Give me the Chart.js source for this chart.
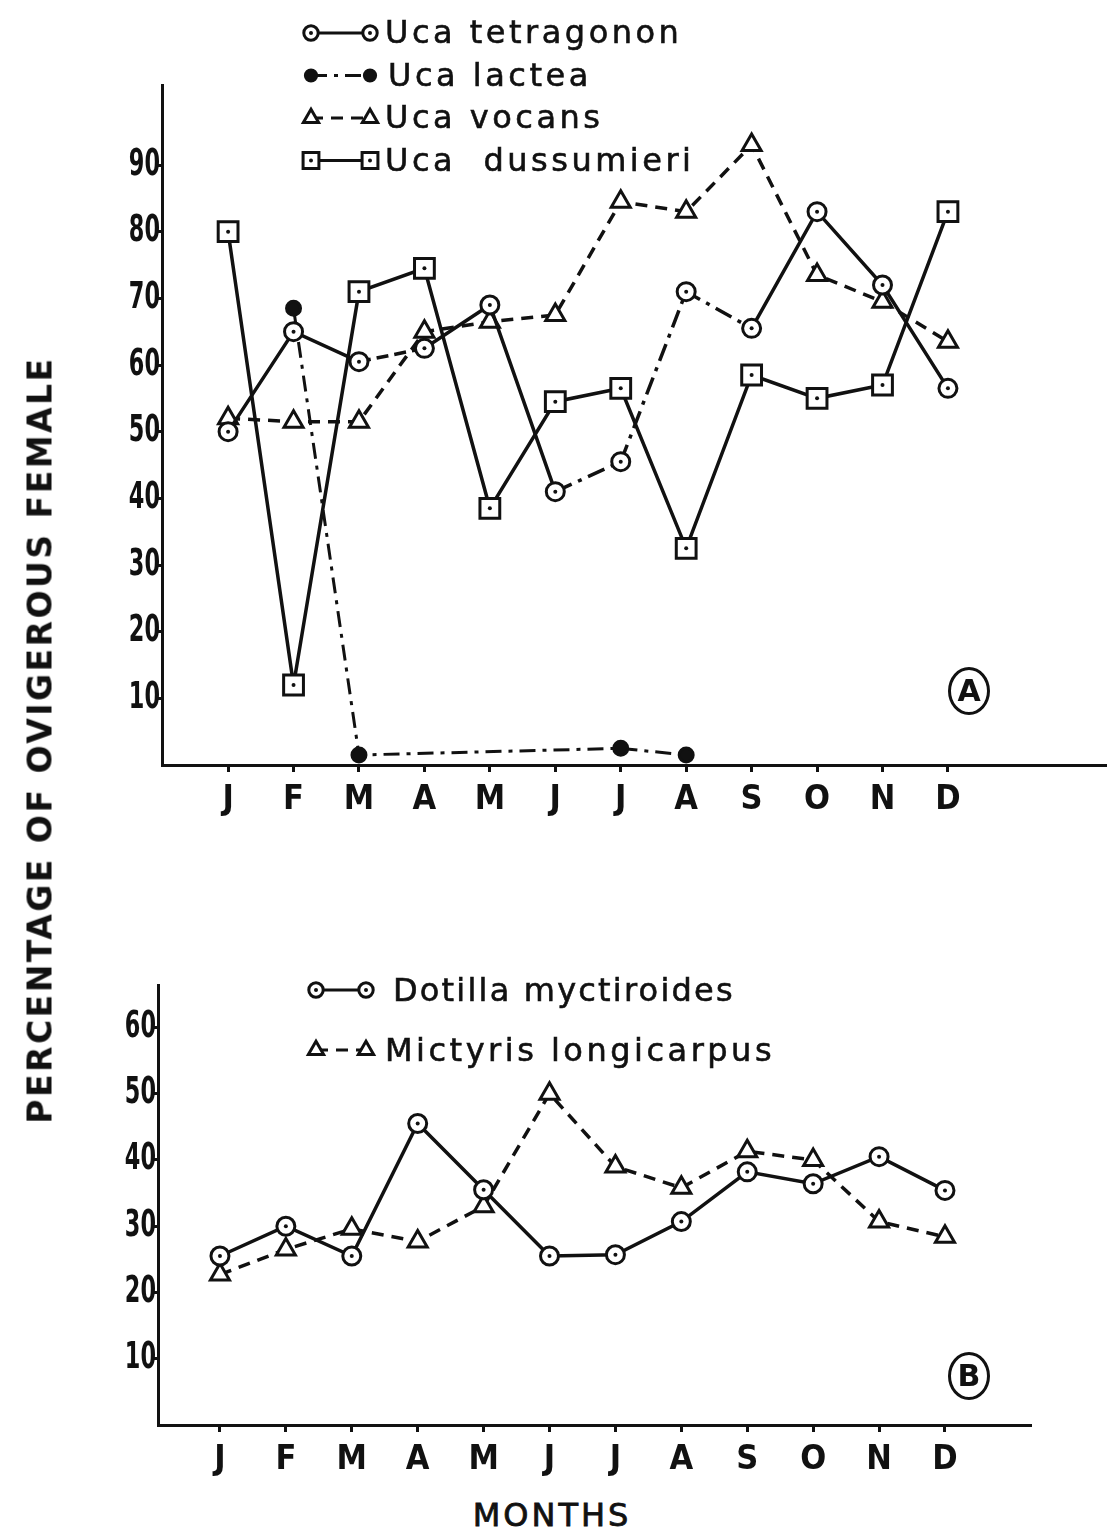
<!DOCTYPE html>
<html>
<head>
<meta charset="utf-8">
<script src="https://cdn.jsdelivr.net/npm/chart.js@4.4.1/dist/chart.umd.min.js"></script>
<style>
  body { margin: 0; background: #fff; }
  #page { position: relative; width: 1108px; height: 1535px; overflow: hidden; font-family: "DejaVu Sans", sans-serif; color: #111; }
  canvas { position: absolute; left: 0; }
  .key { position: absolute; font-size: 32px; line-height: 40px; letter-spacing: 3.5px; white-space: nowrap; -webkit-text-stroke: 0.6px #111; }
  #ytitle { position: absolute; left: 40px; top: 740px; transform: translate(-50%, -50%) rotate(-90deg);
            font-size: 33px; font-weight: bold; letter-spacing: 2.5px; white-space: nowrap; }
  #months { position: absolute; left: 552px; top: 1496px; transform: translateX(-50%);
            font-size: 32px; letter-spacing: 3px; -webkit-text-stroke: 0.8px #111; }
  .tag { position: absolute; width: 36px; height: 42px; border: 3px solid #111; border-radius: 50%;
         font-size: 30px; font-weight: bold; line-height: 42px; text-align: center; }
</style>
</head>
<body>
<div id="page">
  <canvas id="chartA" width="1108" height="830" style="top:0"></canvas>
  <canvas id="chartB" width="1108" height="560" style="top:930px"></canvas>

  <div class="key" style="left:385px; top:12px">Uca tetragonon</div>
  <div class="key" style="left:388px; top:55px">Uca lactea</div>
  <div class="key" style="left:385px; top:97px">Uca vocans</div>
  <div class="key" style="left:385px; top:140px">Uca&nbsp; dussumieri</div>
  <div class="key" style="left:393px; top:970px; letter-spacing:2.2px">Dotilla myctiroides</div>
  <div class="key" style="left:385px; top:1030px">Mictyris longicarpus</div>

  <div id="ytitle">PERCENTAGE OF OVIGEROUS FEMALE</div>
  <div id="months">MONTHS</div>
  <div class="tag" style="left:948px; top:667px">A</div>
  <div class="tag" style="left:948px; top:1352px">B</div>
</div>

<script>
var months = ['J', 'F', 'M', 'A', 'M', 'J', 'J', 'A', 'S', 'O', 'N', 'D'];

// panel A - Uca species
var tetragonon = [50, 65, 60.5, 62.5, 69, 41, 45.5, 71, 65.5, 83, 72, 56.5];
var lactea     = [null, 68.5, 1.5, null, null, null, 2.5, 1.5, null, null, null, null];
var vocans     = [52, 51.5, 51.5, 65, 66.5, 67.5, 84.5, 83, 93, 73.5, 69.5, 63.5];
var dussumieri = [80, 12, 71, 74.5, 38.5, 54.5, 56.5, 32.5, 58.5, 55, 57, 83];
var ticksA = [10, 20, 30, 40, 50, 60, 70, 80, 90];

// panel B
var dotilla  = [25.5, 30, 25.5, 45.5, 35.5, 25.5, 25.7, 30.7, 38.2, 36.4, 40.5, 35.4];
var mictyris = [22.7, 26.5, 29.6, 27.7, 33, 50, 39, 35.8, 41.3, 40, 30.7, 28.4];
var ticksB = [10, 20, 30, 40, 50, 60];

var ink = '#111';
var tickFont = { family: '"DejaVu Sans Condensed", "DejaVu Sans"', size: 34, weight: 'bold' };

function pts(arr) {
  return arr.map(function(v, i) { return { x: i, y: v }; });
}

function series(label, arr, style) {
  var ds = {
    label: label,
    data: pts(arr),
    borderColor: ink,
    borderWidth: 3.5,
    pointBorderColor: ink,
    pointBackgroundColor: '#fff',
    pointBorderWidth: 3,
    pointStyle: 'circle',
    pointRadius: 9,
    tension: 0,
    clip: false,
    innerDot: true
  };
  for (var k in style) ds[k] = style[k];
  return ds;
}

// legend symbols: line + two markers, drawn with each dataset's own style
var keySymbols = {
  id: 'keySymbols',
  afterDraw: function(chart, args, opts) {
    var ctx = chart.ctx;
    chart.data.datasets.forEach(function(ds, i) {
      var y = opts.y + i * opts.gap;
      var x0 = opts.x, x1 = opts.x + opts.w;
      ctx.save();
      ctx.strokeStyle = ink;
      ctx.lineWidth = 3;
      ctx.setLineDash(ds.borderDash || []);
      ctx.beginPath();
      ctx.moveTo(x0, y);
      ctx.lineTo(x1, y);
      ctx.stroke();
      ctx.setLineDash([]);
      [x0, x1].forEach(function(x) {
        ctx.fillStyle = ds.pointBackgroundColor;
        ctx.strokeStyle = ink;
        ctx.lineWidth = 3;
        Chart.helpers.drawPoint(ctx, { pointStyle: ds.pointStyle, radius: ds.pointRadius * 0.8, rotation: 0, borderWidth: 3 }, x, y);
        if (ds.innerDot) {
          ctx.fillStyle = ink;
          ctx.beginPath();
          ctx.arc(x, y, 2, 0, Math.PI * 2);
          ctx.fill();
        }
      });
      ctx.restore();
    });
  }
};

// small dot in the middle of the open markers
var innerDots = {
  id: 'innerDots',
  afterDatasetsDraw: function(chart) {
    var ctx = chart.ctx;
    chart.data.datasets.forEach(function(ds, i) {
      if (!ds.innerDot) return;
      chart.getDatasetMeta(i).data.forEach(function(p) {
        if (p.skip) return;
        ctx.save();
        ctx.fillStyle = ink;
        ctx.beginPath();
        ctx.arc(p.x, p.y, 2, 0, Math.PI * 2);
        ctx.fill();
        ctx.restore();
      });
    });
  }
};

// y tick numbers in a tall narrow face, like the printed figure
var narrowYLabels = {
  id: 'narrowYLabels',
  afterDraw: function(chart) {
    var ctx = chart.ctx;
    var s = chart.scales.y;
    s.ticks.forEach(function(t) {
      var y = s.getPixelForValue(t.value);
      ctx.save();
      ctx.translate(s.right - 2, y);
      ctx.scale(0.7, 1.15);
      ctx.font = 'bold 32px "DejaVu Sans"';
      ctx.fillStyle = ink;
      ctx.textAlign = 'right';
      ctx.textBaseline = 'middle';
      ctx.fillText(String(t.value), 0, 0);
      ctx.restore();
    });
  }
};

function makeScales(xmin, xmax, ymax, yticks) {
  return {
    x: {
      type: 'linear', min: xmin, max: xmax,
      afterBuildTicks: function(s) {
        s.ticks = months.map(function(m, i) { return { value: i }; });
      },
      afterFit: function(s) { s.height = 65; s.paddingLeft = 0; s.paddingRight = 0; },
      ticks: { color: ink, font: tickFont, padding: 8, maxRotation: 0, autoSkip: false,
               callback: function(v) { return months[v]; } },
      grid: { drawOnChartArea: false, color: ink, lineWidth: 3, tickLength: 7 },
      border: { color: ink, width: 3 }
    },
    y: {
      min: 0, max: ymax,
      afterBuildTicks: function(s) {
        s.ticks = yticks.map(function(v) { return { value: v }; });
      },
      afterFit: function(s) { s.width = 82; s.paddingTop = 0; s.paddingBottom = 0; },
      ticks: { display: false },
      grid: { drawOnChartArea: false, color: ink, lineWidth: 3, tickLength: 5 },
      border: { color: ink, width: 3 }
    }
  };
}

var baseOpts = {
  responsive: false,
  animation: false,
  plugins: { legend: { display: false }, tooltip: { enabled: false } }
};

new Chart(document.getElementById('chartA'), {
  type: 'line',
  data: {
    datasets: [
      series('Uca tetragonon', tetragonon, {
        segment: { borderDash: function(ctx) {
          if (ctx.p0DataIndex === 2) return [12, 6];
          if ([5, 6, 7].indexOf(ctx.p0DataIndex) >= 0) return [18, 7, 4, 7];
          return undefined;
        } }
      }),
      series('Uca lactea', lactea, {
        borderDash: [16, 7, 4, 7], pointBackgroundColor: ink, pointRadius: 7,
        spanGaps: true, innerDot: false, borderWidth: 3
      }),
      series('Uca vocans', vocans, {
        borderDash: [12, 8], pointStyle: 'triangle', pointRadius: 11, innerDot: false
      }),
      series('Uca dussumieri', dussumieri, {
        pointStyle: 'rect', pointRadius: 14
      })
    ]
  },
  options: Object.assign({}, baseOpts, {
    layout: { autoPadding: false, padding: { left: 80, top: 85, right: 3, bottom: 0 } },
    scales: makeScales(-1.01, 13.4, 102, ticksA),
    plugins: Object.assign({}, baseOpts.plugins, { keySymbols: { x: 311, w: 59, y: 33, gap: 42.5 } })
  }),
  plugins: [innerDots, keySymbols, narrowYLabels]
});

new Chart(document.getElementById('chartB'), {
  type: 'line',
  data: {
    datasets: [
      series('Dotilla myctiroides', dotilla, {}),
      series('Mictyris longicarpus', mictyris, {
        borderDash: [12, 8], pointStyle: 'triangle', pointRadius: 11, innerDot: false
      })
    ]
  },
  options: Object.assign({}, baseOpts, {
    layout: { autoPadding: false, padding: { left: 76, top: 55, right: 78, bottom: 0 } },
    scales: makeScales(-0.94, 12.29, 66.4, ticksB),
    plugins: Object.assign({}, baseOpts.plugins, { keySymbols: { x: 316, w: 50, y: 60, gap: 60 } })
  }),
  plugins: [innerDots, keySymbols, narrowYLabels]
});
</script>
</body>
</html>
